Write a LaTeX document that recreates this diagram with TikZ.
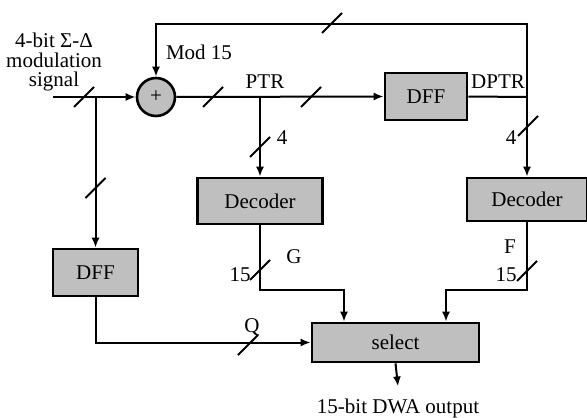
\documentclass[tikz,border=0pt]{standalone}
\usepackage{fontspec}
\setmainfont{Liberation Serif}
\usetikzlibrary{arrows.meta}
\tikzset{
  block/.style={draw, line width=1.3pt, fill=black!25, inner sep=0pt},
  adder/.style={circle, draw, line width=1.3pt, fill=black!25, minimum size=19pt, inner sep=0pt},
  lbl/.style={inner sep=0pt},
  bus/.pic={\draw (-5pt,-5pt) -- (5pt,5pt);},
}
\begin{document}
\begin{tikzpicture}[x=0.5pt, y=-0.5pt, line width=1pt, >={Latex[length=5pt,width=4pt]}, font=\fontsize{10.5}{9.6}\selectfont]
            \useasboundingbox (0,0) rectangle (587,417);
            % input and adder
            \coordinate (in) at (53,97);
            \coordinate (br) at (95.5,97);
            \node[adder] (add) at (156,97) {+};
            \node[lbl, align=center] (sig) at (54,62) {4-bit Σ-Δ\\modulation\\signal};
            \draw[->] (in) -- (add.west);
            \pic at (84,97) {bus};
            % PTR to DFF
            \node[block, minimum width=41pt, minimum height=23.5pt] (dffp) at (426,96.5) {DFF};
            \coordinate (pb) at (260,97);
            \draw[->] (add.east) -- (dffp.west);
            \pic at (213,97) {bus};
            \pic at (311,97) {bus};
            \node[lbl] (ptr) at (265,82) {PTR};
            % feedback, Mod 15
            \coordinate (jr) at (527,97);
            \coordinate (tr) at (527,24);
            \draw (dffp.east) -- (jr);
            \draw[->] (jr) -- (tr) -| (add.north);
            \pic at (332,23) {bus};
            \node[lbl] (dptr) at (498,82) {DPTR};
            \node[lbl] (mod) at (199,52) {Mod 15};
            % decoders
            \node[block, minimum width=62.5pt, minimum height=23pt] (decg) at (260,201) {Decoder};
            \node[block, minimum width=60pt, minimum height=21.5pt] (decf) at (527,199.5) {Decoder};
            \draw[->] (pb) -- (decg.north);
            \pic at (260,147) {bus};
            \node[lbl] (wg) at (282,138) {4};
            \draw[->] (jr) -- (decf.north);
            \pic at (528,126) {bus};
            \node[lbl] (wf) at (511,138) {4};
            % DFF for Q
            \node[block, minimum width=42.5pt, minimum height=23.5pt] (dffq) at (95.5,272.5) {DFF};
            \draw[->] (br) -- (dffq.north);
            \pic at (95.5,188) {bus};
            % select
            \node[block, minimum width=83.5pt, minimum height=19.5pt] (sel) at (395.5,342.5) {select};
            \coordinate (gc) at (344,290);
            \coordinate (fc) at (446,290);
            \draw[->] (decg.south) |- (gc) -- (gc |- sel.north);
            \pic at (260,270) {bus};
            \node[lbl] (ng) at (240,275) {15};
            \node[lbl] (g) at (294,257) {G};
            \draw[->] (decf.south) |- (fc) -- (fc |- sel.north);
            \pic at (527,271) {bus};
            \node[lbl] (nf) at (506,275) {15};
            \node[lbl] (f) at (510,247) {F};
            \draw[->] (dffq.south) |- (sel.west);
            \pic at (248,345) {bus};
            \node[lbl] (q) at (252,327) {Q};
            % output
            \node[lbl] (out) at (398,408) {15-bit DWA output};
            \draw[->] (sel.south) -- ([yshift=5.5pt]out.north);
        \end{tikzpicture}
\end{document}
